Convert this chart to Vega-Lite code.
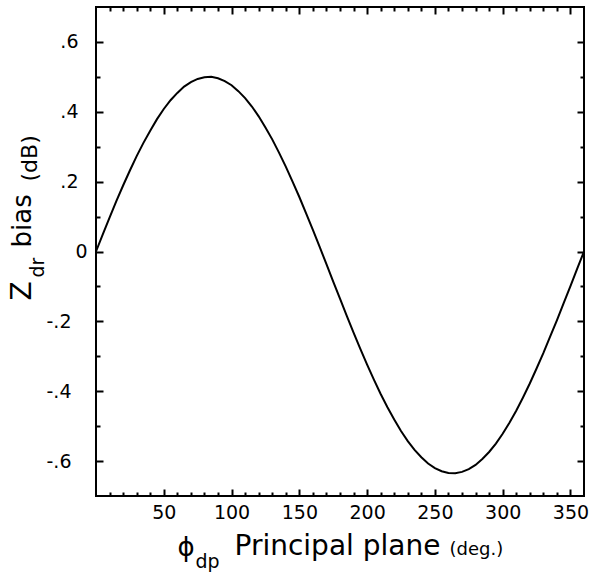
{
  "$schema": "https://vega.github.io/schema/vega-lite/v6.json",
  "width": 488,
  "height": 489,
  "autosize": "none",
  "padding": {"left": 96, "top": 7, "right": 8, "bottom": 79},
  "background": "white",
  "config": {
    "view": {"stroke": "black", "strokeWidth": 2},
    "axis": {
      "labelFont": "DejaVu Sans",
      "titleFont": "DejaVu Sans",
      "grid": false,
      "domain": false,
      "tickColor": "black",
      "tickWidth": 2,
      "labelColor": "black",
      "titleColor": "black",
      "titleFontWeight": "normal",
      "labelFontSize": 19
    }
  },
  "data": {
    "values": [
      {"phi": 0, "bias": 0}, {"phi": 5, "bias": 0.049}, {"phi": 10, "bias": 0.097}, {"phi": 15, "bias": 0.144},
      {"phi": 20, "bias": 0.189}, {"phi": 25, "bias": 0.232}, {"phi": 30, "bias": 0.273}, {"phi": 35, "bias": 0.311},
      {"phi": 40, "bias": 0.346}, {"phi": 45, "bias": 0.379}, {"phi": 50, "bias": 0.408}, {"phi": 55, "bias": 0.433},
      {"phi": 60, "bias": 0.454}, {"phi": 65, "bias": 0.472}, {"phi": 70, "bias": 0.485}, {"phi": 75, "bias": 0.494},
      {"phi": 80, "bias": 0.499}, {"phi": 85, "bias": 0.500}, {"phi": 90, "bias": 0.496}, {"phi": 95, "bias": 0.488},
      {"phi": 100, "bias": 0.476}, {"phi": 105, "bias": 0.459}, {"phi": 110, "bias": 0.439}, {"phi": 115, "bias": 0.415},
      {"phi": 120, "bias": 0.387}, {"phi": 125, "bias": 0.355}, {"phi": 130, "bias": 0.321}, {"phi": 135, "bias": 0.283},
      {"phi": 140, "bias": 0.243}, {"phi": 145, "bias": 0.200}, {"phi": 150, "bias": 0.156}, {"phi": 155, "bias": 0.109},
      {"phi": 160, "bias": 0.062}, {"phi": 165, "bias": 0.013}, {"phi": 170, "bias": -0.036}, {"phi": 175, "bias": -0.086},
      {"phi": 180, "bias": -0.135}, {"phi": 185, "bias": -0.184}, {"phi": 190, "bias": -0.232}, {"phi": 195, "bias": -0.279},
      {"phi": 200, "bias": -0.324}, {"phi": 205, "bias": -0.367}, {"phi": 210, "bias": -0.408}, {"phi": 215, "bias": -0.446},
      {"phi": 220, "bias": -0.481}, {"phi": 225, "bias": -0.514}, {"phi": 230, "bias": -0.543}, {"phi": 235, "bias": -0.568},
      {"phi": 240, "bias": -0.589}, {"phi": 245, "bias": -0.607}, {"phi": 250, "bias": -0.620}, {"phi": 255, "bias": -0.629},
      {"phi": 260, "bias": -0.634}, {"phi": 265, "bias": -0.635}, {"phi": 270, "bias": -0.631}, {"phi": 275, "bias": -0.623},
      {"phi": 280, "bias": -0.611}, {"phi": 285, "bias": -0.594}, {"phi": 290, "bias": -0.574}, {"phi": 295, "bias": -0.550},
      {"phi": 300, "bias": -0.522}, {"phi": 305, "bias": -0.490}, {"phi": 310, "bias": -0.456}, {"phi": 315, "bias": -0.418},
      {"phi": 320, "bias": -0.378}, {"phi": 325, "bias": -0.335}, {"phi": 330, "bias": -0.291}, {"phi": 335, "bias": -0.244},
      {"phi": 340, "bias": -0.197}, {"phi": 345, "bias": -0.148}, {"phi": 350, "bias": -0.099}, {"phi": 355, "bias": -0.049},
      {"phi": 360, "bias": 0}
    ]
  },
  "layer": [
    {
      "mark": {"type": "line", "color": "black", "strokeWidth": 2},
      "encoding": {
        "x": {"field": "phi", "type": "quantitative", "scale": {"domain": [0, 360], "nice": false, "zero": false},
          "axis": {"orient": "bottom", "values": [50, 100, 150, 200, 250, 300, 350], "tickSize": -7, "labelPadding": 14,
            "title": "ϕ", "titleFontSize": 26, "titleX": 81, "titleY": 59, "titleAlign": "left", "titleBaseline": "alphabetic", "titleAngle": 0}},
        "y": {"field": "bias", "type": "quantitative", "scale": {"domain": [-0.7, 0.7], "nice": false, "zero": false},
          "axis": {"orient": "left", "values": [-0.6, -0.4, -0.2, 0, 0.2, 0.4, 0.6], "tickSize": -7, "labelPadding": 25,
            "labelExpr": "datum.value > 0.05 ? replace(format(datum.value, '.1f'), '0.', '.') : ''",
            "title": "Z", "titleFontSize": 28, "titleX": -66, "titleY": 293, "titleAlign": "left", "titleBaseline": "alphabetic", "titleAngle": 270}}
      }
    },
    {
      "mark": {"type": "line", "opacity": 0},
      "encoding": {
        "x": {"field": "phi", "type": "quantitative", "scale": {"domain": [0, 360], "nice": false, "zero": false},
          "axis": {"orient": "top", "values": [50, 100, 150, 200, 250, 300, 350], "tickSize": -7, "labels": false, "title": null}},
        "y": {"field": "bias", "type": "quantitative", "scale": {"domain": [-0.7, 0.7], "nice": false, "zero": false},
          "axis": {"orient": "right", "values": [-0.6, -0.4, -0.2, 0, 0.2, 0.4, 0.6], "tickSize": -7, "labels": false, "title": null}}
      }
    },
    {
      "mark": {"type": "line", "opacity": 0},
      "encoding": {
        "x": {"field": "phi", "type": "quantitative", "scale": {"domain": [0, 360], "nice": false, "zero": false},
          "axis": {"orient": "bottom", "values": [10, 20, 30, 40, 60, 70, 80, 90, 110, 120, 130, 140, 160, 170, 180, 190, 210, 220, 230, 240, 260, 270, 280, 290, 310, 320, 330, 340],
            "tickSize": -4, "labels": false,
            "title": "dp", "titleFontSize": 19, "titleX": 99, "titleY": 71, "titleAlign": "left", "titleBaseline": "alphabetic", "titleAngle": 0}},
        "y": {"field": "bias", "type": "quantitative", "scale": {"domain": [-0.7, 0.7], "nice": false, "zero": false},
          "axis": {"orient": "left", "values": [-0.5, -0.3, -0.1, 0.1, 0.3, 0.5], "tickSize": -4, "labels": false,
            "title": "dr", "titleFontSize": 19, "titleX": -53, "titleY": 270, "titleAlign": "left", "titleBaseline": "alphabetic", "titleAngle": 270}}
      }
    },
    {
      "mark": {"type": "line", "opacity": 0},
      "encoding": {
        "x": {"field": "phi", "type": "quantitative", "scale": {"domain": [0, 360], "nice": false, "zero": false},
          "axis": {"orient": "top", "values": [10, 20, 30, 40, 60, 70, 80, 90, 110, 120, 130, 140, 160, 170, 180, 190, 210, 220, 230, 240, 260, 270, 280, 290, 310, 320, 330, 340],
            "tickSize": -4, "labels": false, "title": null}},
        "y": {"field": "bias", "type": "quantitative", "scale": {"domain": [-0.7, 0.7], "nice": false, "zero": false},
          "axis": {"orient": "right", "values": [-0.5, -0.3, -0.1, 0.1, 0.3, 0.5], "tickSize": -4, "labels": false, "title": null}}
      }
    },
    {
      "mark": {"type": "line", "opacity": 0},
      "encoding": {
        "x": {"field": "phi", "type": "quantitative", "scale": {"domain": [0, 360], "nice": false, "zero": false},
          "axis": {"orient": "bottom", "ticks": false, "labels": false,
            "title": "Principal plane", "titleFontSize": 28, "titleX": 138, "titleY": 58, "titleAlign": "left", "titleBaseline": "alphabetic", "titleAngle": 0}},
        "y": {"field": "bias", "type": "quantitative", "scale": {"domain": [-0.7, 0.7], "nice": false, "zero": false},
          "axis": {"orient": "left", "values": [0], "ticks": false, "labelPadding": 9, "labelExpr": "'0'",
            "title": "bias", "titleFontSize": 26, "titleX": -66, "titleY": 240, "titleAlign": "left", "titleBaseline": "alphabetic", "titleAngle": 270}}
      }
    },
    {
      "mark": {"type": "line", "opacity": 0},
      "encoding": {
        "x": {"field": "phi", "type": "quantitative", "scale": {"domain": [0, 360], "nice": false, "zero": false},
          "axis": {"orient": "bottom", "ticks": false, "labels": false,
            "title": "(deg.)", "titleFontSize": 18, "titleX": 353, "titleY": 58, "titleAlign": "left", "titleBaseline": "alphabetic", "titleAngle": 0}},
        "y": {"field": "bias", "type": "quantitative", "scale": {"domain": [-0.7, 0.7], "nice": false, "zero": false},
          "axis": {"orient": "left", "values": [-0.6, -0.4, -0.2], "ticks": false, "labelPadding": 25,
            "labelExpr": "'-' + replace(format(abs(datum.value), '.1f'), '0.', '.')",
            "title": "(dB)", "titleFontSize": 22, "titleX": -60, "titleY": 174, "titleAlign": "left", "titleBaseline": "alphabetic", "titleAngle": 270}}
      }
    }
  ],
  "resolve": {"axis": {"x": "independent", "y": "independent"}}
}
